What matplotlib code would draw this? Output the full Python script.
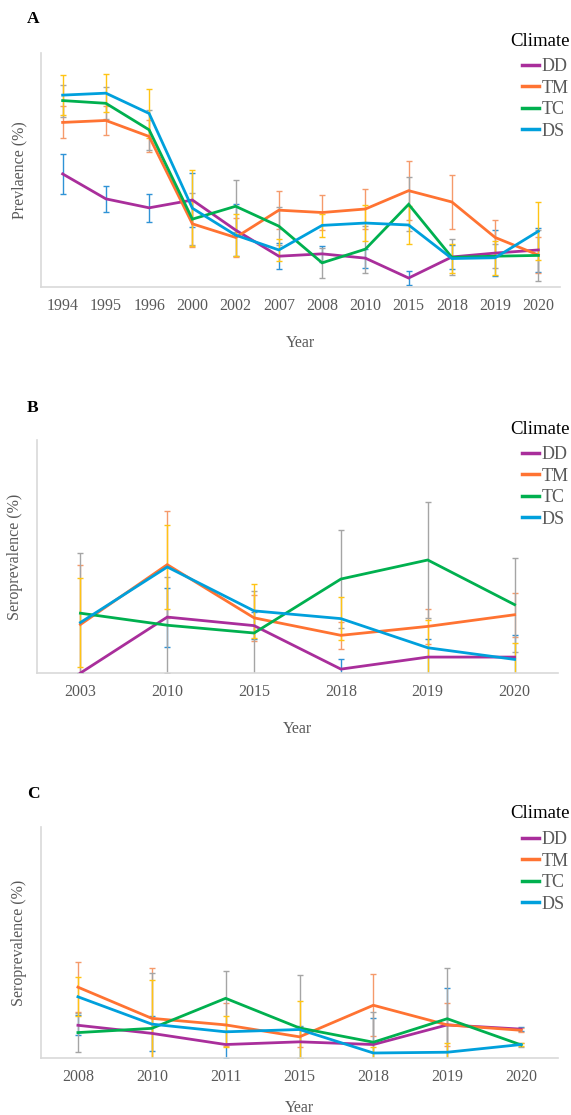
import numpy as np
import matplotlib
matplotlib.use("Agg")
import matplotlib.pyplot as plt
from matplotlib.lines import Line2D

plt.rcParams['font.family'] = ['Liberation Serif', 'DejaVu Serif']

# ================= DATA =================
climates = ["DD", "TM", "TC", "DS"]
line_colors = ["#A92E9B", "#FF7332", "#00B04F", "#00A0DC"]
err_colors = ["#2F93D6", "#F59A6B", "#A5A5A5", "#FFC414"]

# panel A - prevalence
years_a = ["1994", "1995", "1996", "2000", "2002", "2007", "2008", "2010", "2015", "2018", "2019", "2020"]
dd_a = [29.0, 22.6, 20.3, 22.3, 14.6, 7.9, 8.5, 7.4, 2.3, 7.7, 8.7, 9.5]
tm_a = [42.2, 42.7, 38.6, 16.2, 12.7, 19.7, 19.1, 20.0, 24.7, 21.8, 12.7, 8.2]
tc_a = [47.8, 47.1, 40.3, 17.4, 20.7, 15.6, 6.2, 9.7, 21.2, 7.6, 7.9, 8.1]
ds_a = [49.2, 49.7, 44.5, 20.2, 13.3, 9.5, 15.8, 16.4, 15.9, 7.3, 7.5, 14.3]
dd_a_err = [5.1, 3.3, 3.6, 6.9, 6.7, 3.3, 2.0, 2.4, 1.7, 3.1, 6.0, 5.7]
tm_a_err = [4.1, 3.6, 4.1, 5.9, 4.9, 4.9, 4.4, 5.2, 7.5, 6.8, 4.4, 4.7]
tc_a_err = [4.1, 4.1, 5.1, 6.7, 6.7, 4.9, 3.8, 6.0, 6.9, 4.6, 3.0, 6.6]
ds_a_err = [5.1, 4.9, 6.2, 9.7, 5.4, 2.8, 3.0, 4.5, 4.9, 3.8, 4.3, 7.4]

# panel B - seroprevalence
years_b = ["2003", "2010", "2015", "2018", "2019", "2020"]
dd_b = [0.0, 14.4, 12.2, 1.0, 4.1, 4.1]
tm_b = [12.5, 27.9, 14.2, 9.7, 12.0, 15.0]
tc_b = [15.4, 12.3, 10.3, 24.2, 29.1, 17.6]
ds_b = [13.0, 27.3, 16.0, 14.0, 6.5, 3.5]
dd_b_err = [0.0, 7.6, 3.5, 2.5, 4.7, 5.8]
tm_b_err = [15.3, 13.7, 6.0, 3.5, 4.6, 5.7]
tc_b_err = [15.4, 12.3, 10.7, 12.5, 15.0, 12.1]
ds_b_err = [11.4, 10.8, 7.0, 5.6, 7.2, 4.1]

# panel C - seroprevalence
years_c = ["2008", "2010", "2011", "2015", "2018", "2019", "2020"]
dd_c = [8.5, 6.4, 3.5, 4.2, 3.5, 8.6, 7.5]
tm_c = [18.4, 10.3, 8.6, 5.5, 13.7, 8.6, 7.2]
tc_c = [6.6, 7.7, 15.5, 7.8, 4.1, 10.2, 3.4]
ds_c = [15.9, 8.8, 6.8, 7.4, 1.3, 1.5, 3.5]
dd_c_err = [2.6, 4.6, 3.4, 4.2, 7.0, 9.6, 0.5]
tm_c_err = [6.5, 13.2, 5.6, 2.6, 8.0, 5.6, 0.5]
tc_c_err = [5.0, 14.5, 7.0, 13.8, 7.9, 13.3, 0.5]
ds_c_err = [5.1, 11.5, 4.0, 7.5, 1.5, 2.4, 0.5]

W, H = 571, 1115
fig = plt.figure(figsize=(W / 100, H / 100), dpi=100)


def px_axes(left, top, right, bottom):
    return fig.add_axes([left / W, 1 - bottom / H, (right - left) / W, (bottom - top) / H])


def draw_panel(ax, years, series, errs, ylabel, letter, letter_y, title_y, xlabelpad=15):
    x = np.arange(len(years))
    for vals, err, ec in zip(series, errs, err_colors):
        ax.errorbar(x, vals, yerr=err, fmt='none', ecolor=ec, elinewidth=1.0,
                    capsize=2.2, capthick=1.0, zorder=2)
    for vals, lc, name in zip(series, line_colors, climates):
        ax.plot(x, vals, color=lc, lw=2.0, label=name, zorder=3, solid_joinstyle='miter')
    ax.set_xlim(-0.5, len(years) - 0.5)
    ax.set_ylim(0, 60)
    ax.set_xticks(x)
    ax.set_xticklabels(years, fontsize=11.5, color="#595959")
    ax.set_yticks([])
    ax.tick_params(axis='x', length=0, pad=8)
    for s in ["top", "right"]:
        ax.spines[s].set_visible(False)
    for s in ["left", "bottom"]:
        ax.spines[s].set_color("#D9D9D9")
        ax.spines[s].set_linewidth(1.2)
    ax.set_xlabel("Year", fontsize=11.5, color="#595959", labelpad=xlabelpad)
    ax.set_ylabel(ylabel, fontsize=11.5, color="#595959", labelpad=10)
    fig.text(27 / W, 1 - letter_y / H, letter, fontsize=12.5, fontweight='bold', va='center')

    # legend: title as separate text, entries below
    fig.text(570 / W, 1 - title_y / H, "Climate", fontsize=13.5, ha='right', va='center')
    handles = [Line2D([0], [0], color=c, lw=2.5) for c in line_colors]
    leg = ax.legend(handles, climates, loc='upper left',
                    bbox_to_anchor=(522 / W, 1 - (title_y + 17) / H), bbox_transform=fig.transFigure,
                    frameon=False, fontsize=13, handlelength=0.95, handletextpad=0.15,
                    labelspacing=0.25, borderpad=0, borderaxespad=0)
    for t in leg.get_texts():
        t.set_color("#595959")


ax_a = px_axes(41, 53, 560, 287)
draw_panel(ax_a, years_a, [dd_a, tm_a, tc_a, ds_a], [dd_a_err, tm_a_err, tc_a_err, ds_a_err],
           "Prevlaence (%)", "A", 19, 41)

ax_b = px_axes(37, 440, 558, 673)
draw_panel(ax_b, years_b, [dd_b, tm_b, tc_b, ds_b], [dd_b_err, tm_b_err, tc_b_err, ds_b_err],
           "Seroprevalence (%)", "B", 408, 429)

ax_c = px_axes(41, 827, 558, 1058)
draw_panel(ax_c, years_c, [dd_c, tm_c, tc_c, ds_c], [dd_c_err, tm_c_err, tc_c_err, ds_c_err],
           "Seroprevalence (%)", "C", 794, 814, xlabelpad=11)

fig.savefig("out.png", dpi=100)
